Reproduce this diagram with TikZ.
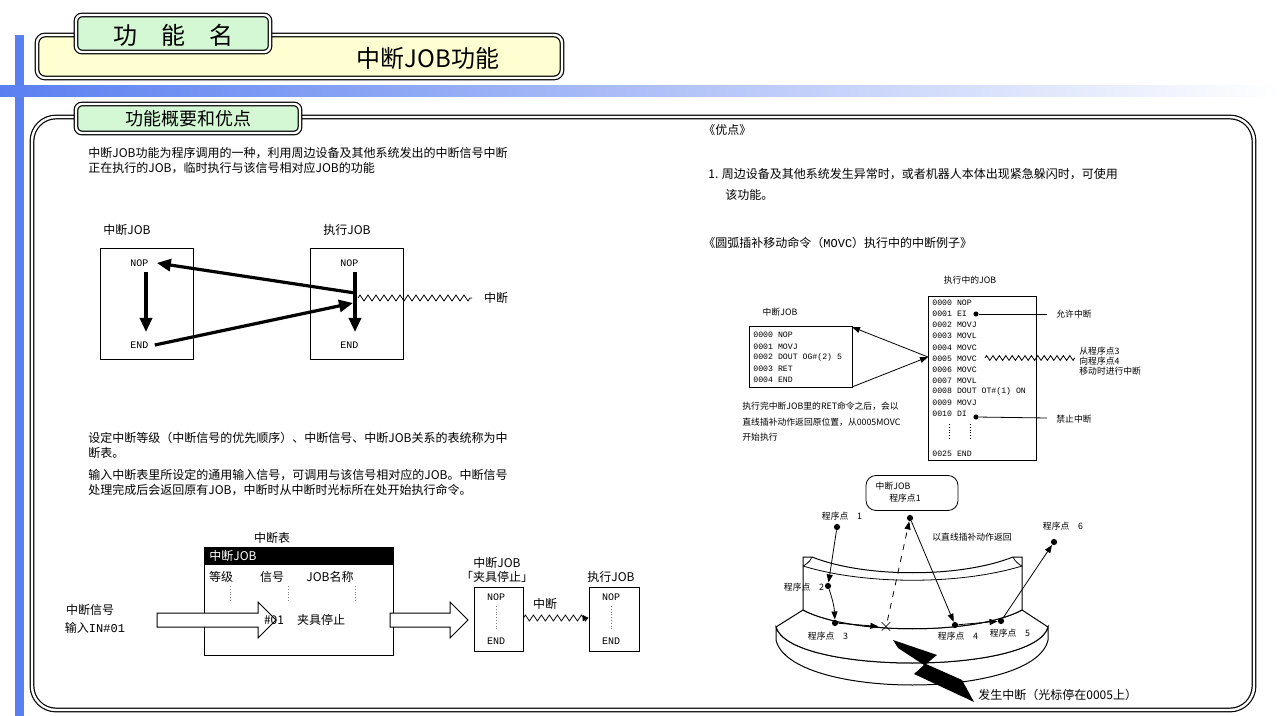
\documentclass[tikz,border=0pt]{standalone}
\usepackage{fontspec}
\setmainfont{Noto Sans CJK SC}
\setmonofont{Liberation Mono}
\usetikzlibrary{decorations.pathmorphing,arrows.meta}
\definecolor{tabgreen}{HTML}{D4F7D4}
\definecolor{titleyellow}{HTML}{FFFFD2}
\definecolor{barblue}{HTML}{5A7FF0}
\tikzset{
  txt/.style={font=\fontsize{6}{7}\selectfont, inner sep=0pt},
  code/.style={font=\ttfamily\fontsize{4.1}{5}\selectfont, inner sep=0pt, anchor=west},
  bigcode/.style={code, font=\ttfamily\fontsize{5}{6}\selectfont},
  small/.style={font=\fontsize{4.4}{5}\selectfont, inner sep=0pt},
  box/.style={draw, line width=0.4pt},
  frame/.style={draw, double, double distance=1.2pt, line width=0.6pt},
  tab/.style={frame, fill=tabgreen, rounded corners=3pt},
  thick arrow/.style={line width=1.6pt, -{Triangle[length=7pt,width=6pt]}},
  thin arrow/.style={line width=0.4pt, -{Triangle[length=4pt,width=3pt]}},
  zz/.style={decorate, decoration={zigzag, segment length=4pt, amplitude=1.5pt}, line width=0.4pt},
  hollow/.style={draw, fill=white, line width=0.5pt},
  pt/.style={circle, fill, inner sep=1.1pt}
}
\begin{document}
\begin{tikzpicture}[x=0.5pt, y=-0.5pt]
  \useasboundingbox (0,0) rectangle (1280,716);
  % Background bars
  \fill[barblue] (15,35) rectangle (24,716);
  \shade[left color=barblue, right color=white] (0,86) rectangle (1280,97);
  % Title
  \draw[frame, fill=titleyellow, rounded corners=4pt] (37,35) rectangle (562,78);
  \draw[tab] (76,15) rectangle (270,52);
  \node (title-tab) [font=\fontsize{12}{12}\selectfont] at (173,35) {功\quad 能\quad 名};
  \node (title) [font=\fontsize{12}{12}\selectfont] at (428,58) {中断JOB功能};
  % Main frame
  \draw[frame, fill=white, rounded corners=12pt] (32,117) rectangle (1254,710);
  \draw[tab] (76,104) rectangle (300,133);
  \node (sec-tab) [font=\fontsize{9}{9}\selectfont] at (188,119) {功能概要和优点};
  % Intro text
  \node (intro-1) [txt, anchor=west] at (88,153) {中断JOB功能为程序调用的一种，利用周边设备及其他系统发出的中断信号中断};
  \node (intro-2) [txt, anchor=west] at (88,168) {正在执行的JOB，临时执行与该信号相对应JOB的功能};
  % Simple example
  \node (job-a-label) [txt] at (127,230) {中断JOB};
  \node (job-a) [box, minimum width=46.5pt, minimum height=55.5pt] at (146.5,303.5) {};
  \node (job-a-nop) [bigcode] at (130,263) {NOP};
  \node (job-a-end) [bigcode] at (130,345) {END};
  \node (job-b-label) [txt] at (347,230) {执行JOB};
  \node (job-b) [box, minimum width=46.5pt, minimum height=55.5pt] at (356.5,303.5) {};
  \node (job-b-nop) [bigcode] at (340,263) {NOP};
  \node (job-b-end) [bigcode] at (340,345) {END};
  \coordinate (jump-out) at (355,293);
  \coordinate (jump-in) at (353,303);
  \coordinate (zz-end) at (472,298);
  \draw[thick arrow] (146,272) -- (146,332);
  \draw[thick arrow] (355,272) -- (355,332);
  \draw[thick arrow] (jump-out) -- ([xshift=4pt]job-a-nop.east);
  \draw[thick arrow] ([xshift=3pt]job-a-end.east) -- (jump-in);
  \draw[zz] (358,298) -- (zz-end);
  \node (int-label) [txt] at (496,298) {中断};
  % Table text
  \node (desc-1) [txt, anchor=west] at (88,438) {设定中断等级（中断信号的优先顺序）、中断信号、中断JOB关系的表统称为中};
  \node (desc-2) [txt, anchor=west] at (88,453) {断表。};
  \node (desc-3) [txt, anchor=west] at (88,475) {输入中断表里所设定的通用输入信号，可调用与该信号相对应的JOB。中断信号};
  \node (desc-4) [txt, anchor=west] at (88,490) {处理完成后会返回原有JOB，中断时从中断时光标所在处开始执行命令。};
  % Interrupt table
  \node (table-label) [txt] at (272,538) {中断表};
  \draw[box] (204,547) rectangle (393,655);
  \fill (204,547) rectangle (393,565);
  \node (table-head) [txt, text=white, anchor=west] at (209,556) {中断JOB};
  \node (col-level) [txt] at (221,577) {等级};
  \node (col-signal) [txt] at (272,577) {信号};
  \node (col-job) [txt] at (330,577) {JOB名称};
  \foreach \x in {230,288,355}
    \draw[densely dotted, gray] (\x,586) -- (\x,602);
  \draw[hollow] (157,613) -- (258,613) -- (258,602) -- (276,620) -- (258,638) -- (258,627) -- (157,627) -- cycle;
  \node (row-signal) [txt] at (274,620) {\#01};
  \node (row-job) [txt] at (321,620) {夹具停止};
  \node (sig-1) [txt] at (90,610) {中断信号};
  \node (sig-2) [txt] at (95,628) {输入\texttt{IN\#01}};
  \draw[hollow] (390,613) -- (450,613) -- (450,602) -- (468,620) -- (450,638) -- (450,627) -- (390,627) -- cycle;
  \node (job-c-label1) [txt] at (497,563) {中断JOB};
  \node (job-c-label2) [txt] at (497,577) {「夹具停止」};
  \node (job-c) [box, minimum width=24.5pt, minimum height=32pt] at (498.5,619) {};
  \node (job-c-nop) [bigcode, anchor=center] at (496,597) {NOP};
  \node (job-c-end) [bigcode, anchor=center] at (496,641) {END};
  \draw[densely dotted, gray] (496,606) -- (496,630);
  \node (job-d-label) [txt] at (611,577) {执行JOB};
  \node (job-d) [box, minimum width=25pt, minimum height=32pt] at (614,619) {};
  \node (job-d-nop) [bigcode, anchor=center] at (611,597) {NOP};
  \node (job-d-end) [bigcode, anchor=center] at (611,641) {END};
  \draw[densely dotted, gray] (611,606) -- (611,630);
  \node (int-label-2) [txt] at (545,604) {中断};
  \draw[zz, -{Triangle[length=3pt,width=3pt]}] (job-c.east |- 0,618) -- (job-d.west |- 0,618);
  % Advantages
  \node (adv) [txt, anchor=west] at (703,130) {《优点》};
  \node (adv-1) [txt, anchor=west] at (708,174) {1. 周边设备及其他系统发生异常时，或者机器人本体出现紧急躲闪时，可使用};
  \node (adv-2) [txt, anchor=west] at (725,195) {该功能。};
  \node (movc) [txt, anchor=west] at (703,243) {《圆弧插补移动命令（\texttt{MOVC}）执行中的中断例子》};
  % Running job listing
  \node (run-label) [small] at (970,280) {执行中的JOB};
  \draw[box] (928,296) rectangle (1036,460);
  \foreach \n [count=\i from 0] in {0000 NOP,0001 EI,0002 MOVJ,0003 MOVL,0004 MOVC,0005 MOVC,0006 MOVC,0007 MOVL,0008 DOUT OT\#(1) ON,0009 MOVJ,0010 DI}
    \node [code] at (932,303+11.1*\i) {\n};
  \node (run-end) [code] at (932,454) {0025 END};
  \foreach \x in {949,970}
    \draw[densely dotted] (\x,424) -- (\x,440);
  \node (ei-dot) [pt, inner sep=0.9pt] at (976,314) {};
  \node (di-dot) [pt, inner sep=0.9pt] at (976,417) {};
  \node (ei-label) [small, anchor=west] at (1056,314) {允许中断};
  \node (di-label) [small, anchor=west] at (1056,419) {禁止中断};
  \draw (ei-dot) -- (1047,314);
  \draw (di-dot) -- (1047,418);
  \draw[zz, decoration={segment length=3.2pt, amplitude=1.2pt}] (985,358) -- (1075,358);
  \node (zz-label) [small, anchor=west, align=left] at (1079,361) {从程序点3\\向程序点4\\移动时进行中断};
  % Interrupt job listing
  \node (int-job-label) [small] at (780,312) {中断JOB};
  \draw[box] (749,326) rectangle (852,387);
  \foreach \t [count=\i from 0] in {0000 NOP,0001 MOVJ,0002 DOUT OG\#(2) 5,0003 RET,0004 END}
    \node [code] at (753,335+11.3*\i) {\t};
  \coordinate (call) at (928,357);
  \draw[thin arrow] (call) -- (852,327);
  \draw[thin arrow] (852,387) -- (call);
  \node (ret-1) [small, anchor=west] at (742,406) {执行完中断JOB里的RET命令之后，会以};
  \node (ret-2) [small, anchor=west] at (742,422) {直线插补动作返回原位置，从0005MOVC};
  \node (ret-3) [small, anchor=west] at (742,437) {开始执行};
  % Workpiece
  \draw[line width=0.5pt, fill=white] (776,627) .. controls (790,675) and (1035,675) .. (1048,627) -- (1048,640) .. controls (1035,700) and (790,700) .. (776,640) -- cycle;
  \draw[line width=0.5pt, fill=white] (776,627) -- (803,610) .. controls (850,635) and (975,635) .. (1022,610) -- (1048,627) .. controls (1035,675) and (790,675) .. (776,627) -- cycle;
  \draw[line width=0.5pt, fill=white] (803,557) -- (803,610) .. controls (850,635) and (975,635) .. (1022,610) -- (1022,557) -- (1013,557) .. controls (960,578) and (865,578) .. (812,557) -- cycle;
  \draw[line width=0.4pt] (812,557) .. controls (810,562) and (805,565) .. (803,566);
  \draw[line width=0.4pt] (1013,557) .. controls (1015,562) and (1020,565) .. (1022,566);
  \draw[line width=0.4pt] (803,566) .. controls (865,585) and (960,585) .. (1022,566);
  % Path points
  \node (memo) [draw, rounded corners=5pt, minimum width=46pt, minimum height=17.5pt] at (912,493) {};
  \node (memo-1) [small] at (893,486) {中断JOB};
  \node (memo-2) [small] at (905,498) {程序点1};
  \node (p1) [pt] at (837,527) {};
  \node (p2) [pt] at (828,586) {};
  \node (p3) [pt] at (835,623) {};
  \node (px) [inner sep=0pt, font=\fontsize{9}{9}\selectfont] at (886,627) {$\times$};
  \node (p4) [pt] at (955,625) {};
  \node (p5) [pt] at (1001,621) {};
  \node (p6) [pt] at (1054,542) {};
  \node (pj) [pt] at (910,518) {};
  \node (p1-label) [small] at (842,516) {程序点\quad 1};
  \node (p2-label) [small] at (804,587) {程序点\quad 2};
  \node (p3-label) [small] at (828,636) {程序点\quad 3};
  \node (p4-label) [small] at (958,636) {程序点\quad 4};
  \node (p5-label) [small] at (1010,633) {程序点\quad 5};
  \node (p6-label) [small] at (1063,526) {程序点\quad 6};
  \node (back-label) [small] at (972,537) {以直线插补动作返回};
  \draw[thin arrow] (p1) -- (p2);
  \draw[thin arrow] (p2) to[bend left=8] (p3);
  \draw[thin arrow] (p3) -- (px);
  \draw[thin arrow, dashed] (px) -- (pj);
  \draw[thin arrow] (pj) -- (p4);
  \draw[thin arrow] (p4) -- (p5);
  \draw[thin arrow] (p5) -- (p6);
  % Lightning
  \fill (893,640) -- (937,655) -- (926,664) -- (962,680) -- (974,702) -- (914,674) -- (924,665) -- (898,648) -- cycle;
  \node (bolt-label) [txt, anchor=west] at (978,695) {发生中断（光标停在0005上）};
\end{tikzpicture}
\end{document}
